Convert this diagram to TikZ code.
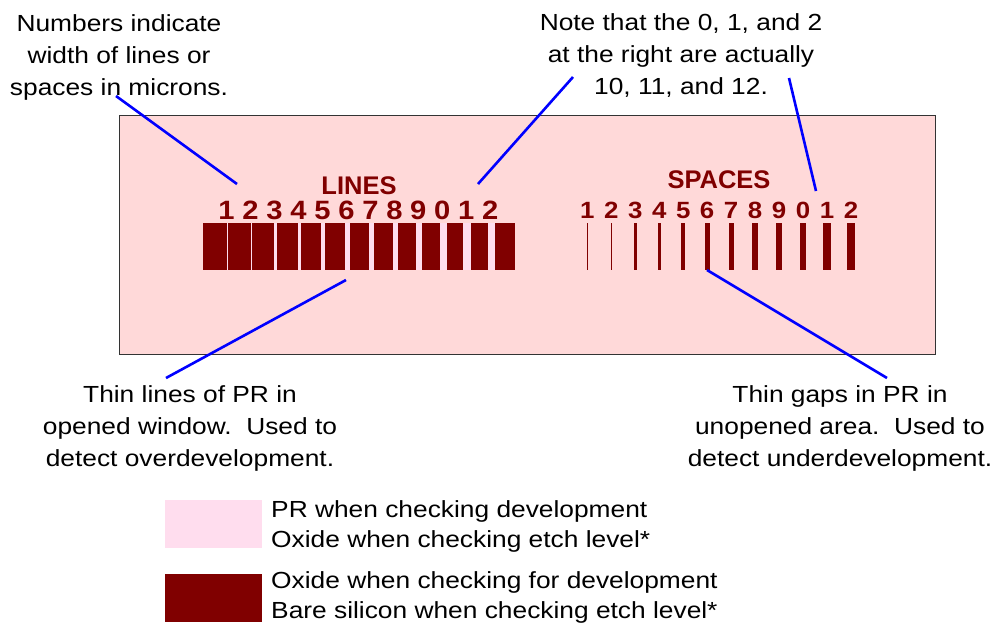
\documentclass[tikz,border=0pt]{standalone}
\usepackage{fontspec}
\setmainfont{Liberation Sans}[FakeStretch=1.13]
\newfontfamily\barfont{Liberation Sans}[FakeStretch=1.1]
\newfontfamily\headfont{Liberation Sans}
\definecolor{oxide}{HTML}{800000}
\definecolor{prpink}{HTML}{FFDDEE}
\definecolor{fieldpink}{HTML}{FFD9D9}
\definecolor{leadblue}{HTML}{0000FF}
\begin{document}
\begin{tikzpicture}[x=1pt,y=-1pt,
  note/.style={align=center,inner sep=0pt,anchor=north,font=\fontsize{23.3}{32}\selectfont},
  legtext/.style={align=left,inner sep=0pt,anchor=north west,font=\fontsize{23.3}{30}\selectfont},
  head/.style={text=oxide,inner sep=0pt,anchor=base,font=\headfont\bfseries\fontsize{25.5}{26}\selectfont},
  linedigit/.style={text=oxide,inner sep=0pt,anchor=base,font=\barfont\bfseries\fontsize{26.5}{27}\selectfont},
  gapdigit/.style={text=oxide,inner sep=0pt,anchor=base,font=\barfont\bfseries\fontsize{23.5}{24}\selectfont},
  swatch/.style={minimum width=96.7pt,minimum height=47.7pt,inner sep=0pt,draw=none},
  leader/.style={draw=leadblue,line width=2.6pt}]
  \fill[white] (0,0) rectangle (993,625);
  \useasboundingbox (0,0) rectangle (993,625);
  % test field
  \filldraw[fill=fieldpink,draw=black!80,line width=1pt] (119,115) rectangle (935.7,354.3);
  % lines block: dark field cut by widening gaps
  \node[head] (lineshead) at (359,194.3) {LINES};
  \fill[oxide] (203.3,223.3) rectangle (515,270);
  \foreach \w [count=\i] in {1.7,1.7,2.3,2.7,4,5,5,5.3,6,6.7,7.7,7.3} {
    \pgfmathsetmacro\xc{227.5+(\i-1)*23.98}
    \pgfmathtruncatemacro\d{mod(\i,10)}
    \fill[prpink] (\xc-\w/2,223.3) rectangle (\xc+\w/2,270);
    \node[linedigit] (ln\i) at (\xc-1,219.3) {\d};
  }
  % spaces block: widening dark bars
  \node[head] (spaceshead) at (719,188.3) {SPACES};
  \foreach \w [count=\i] in {0.7,1,2.7,2.7,4,5,5,5.7,5.7,6.7,7.7,8.7} {
    \pgfmathsetmacro\xc{587.3+(\i-1)*23.97}
    \pgfmathtruncatemacro\d{mod(\i,10)}
    \fill[oxide] (\xc-\w/2,223.3) rectangle (\xc+\w/2,270);
    \node[gapdigit] (sp\i) at (\xc,218.3) {\d};
  }
  % notes
  \node[note] (numnote) at (119,14) {Numbers indicate\\width of lines or\\spaces in microns.};
  \node[note] (wrapnote) at (681,13) {Note that the 0, 1, and 2\\at the right are actually\\10, 11, and 12.};
  \node[note] (overnote) at (190,385) {Thin lines of PR in\\opened window.\ \ Used to\\detect overdevelopment.};
  \node[note] (undernote) at (840,385) {Thin gaps in PR in\\unopened area.\ \ Used to\\detect underdevelopment.};
  % leaders
  \coordinate (numfoot) at (116,96);   \coordinate (numtip) at (237,184);
  \coordinate (wrapfootA) at (573,77); \coordinate (wraptipA) at (478,184);
  \coordinate (wrapfootB) at (789,78); \coordinate (wraptipB) at (816,191);
  \coordinate (overtip) at (346,280);  \coordinate (overfoot) at (166,378);
  \coordinate (undertip) at (707,270); \coordinate (underfoot) at (887,378);
  \draw[leader] (numfoot) -- (numtip);
  \draw[leader] (wrapfootA) -- (wraptipA);
  \draw[leader] (wrapfootB) -- (wraptipB);
  \draw[leader] (overtip) -- (overfoot);
  \draw[leader] (undertip) -- (underfoot);
  % legend
  \node[swatch,fill=prpink] (prkey) at (213.3,523.8) {};
  \node[swatch,fill=oxide] (oxkey) at (213.3,597.8) {};
  \node[legtext] (prtext) at (271,500) {PR when checking development\\Oxide when checking etch level*};
  \node[legtext] (oxtext) at (271,571.5) {Oxide when checking for development\\Bare silicon when checking etch level*};
\end{tikzpicture}
\end{document}
